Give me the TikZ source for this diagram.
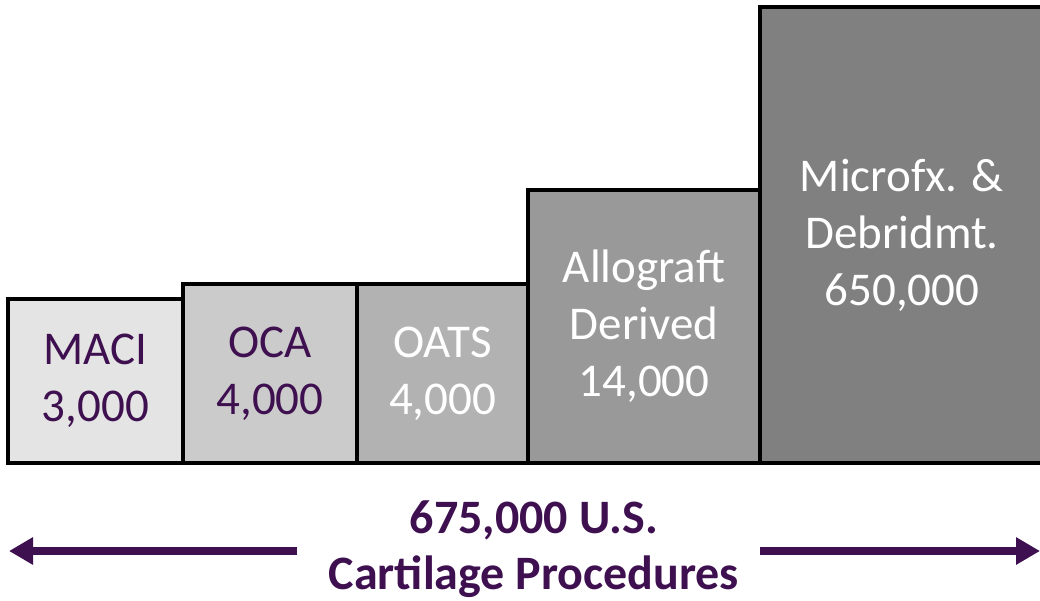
\documentclass[tikz,border=0pt]{standalone}
\usepackage{fontspec}
\setmainfont{Carlito}
\usetikzlibrary{arrows.meta}
\definecolor{dpurple}{HTML}{3F1050}
\definecolor{gA}{HTML}{E4E4E4}
\definecolor{gB}{HTML}{CBCBCB}
\definecolor{gC}{HTML}{B2B2B2}
\definecolor{gD}{HTML}{999999}
\definecolor{gE}{HTML}{808080}
\tikzset{
  bar/.style={draw=black, line width=4pt, inner sep=0pt, align=center,
    font=\fontsize{47}{57}\selectfont},
  total/.style={text=dpurple, align=center, font=\fontsize{48}{56}\selectfont\bfseries},
  span/.style={draw=dpurple, line width=8pt, -{Triangle[length=24pt,width=26pt]}}
}
\begin{document}
\begin{tikzpicture}[x=1pt,y=-1pt]
\useasboundingbox (0,0) rectangle (1040,600);
\fill[white] (0,0) rectangle (1040,600);
\node[bar, fill=gE, text=white, minimum width=284pt, minimum height=456pt] (micro) at (902,235) {Microfx. \&\\Debridmt.\\650,000};
\node[bar, fill=gD, text=white, minimum width=232pt, minimum height=273pt] (allo) at (644,326.5) {Allograft\\Derived\\14,000};
\node[bar, fill=gC, text=white, minimum width=171pt, minimum height=179pt] (oats) at (442.5,373.5) {OATS\\4,000};
\node[bar, fill=gB, text=dpurple, minimum width=174pt, minimum height=179pt] (oca) at (270,373.5) {OCA\\4,000};
\node[bar, fill=gA, text=dpurple, minimum width=175pt, minimum height=164pt] (maci) at (95.5,381) {MACI\\3,000};
\node[total] (tot) at (534,549) {675,000 U.S.\\Cartilage Procedures};
\coordinate (lstart) at (297,551);
\coordinate (lend) at (9,551);
\coordinate (rstart) at (760,551);
\coordinate (rend) at (1040,551);
\draw[span] (lstart) -- (lend);
\draw[span] (rstart) -- (rend);
\end{tikzpicture}
\end{document}
